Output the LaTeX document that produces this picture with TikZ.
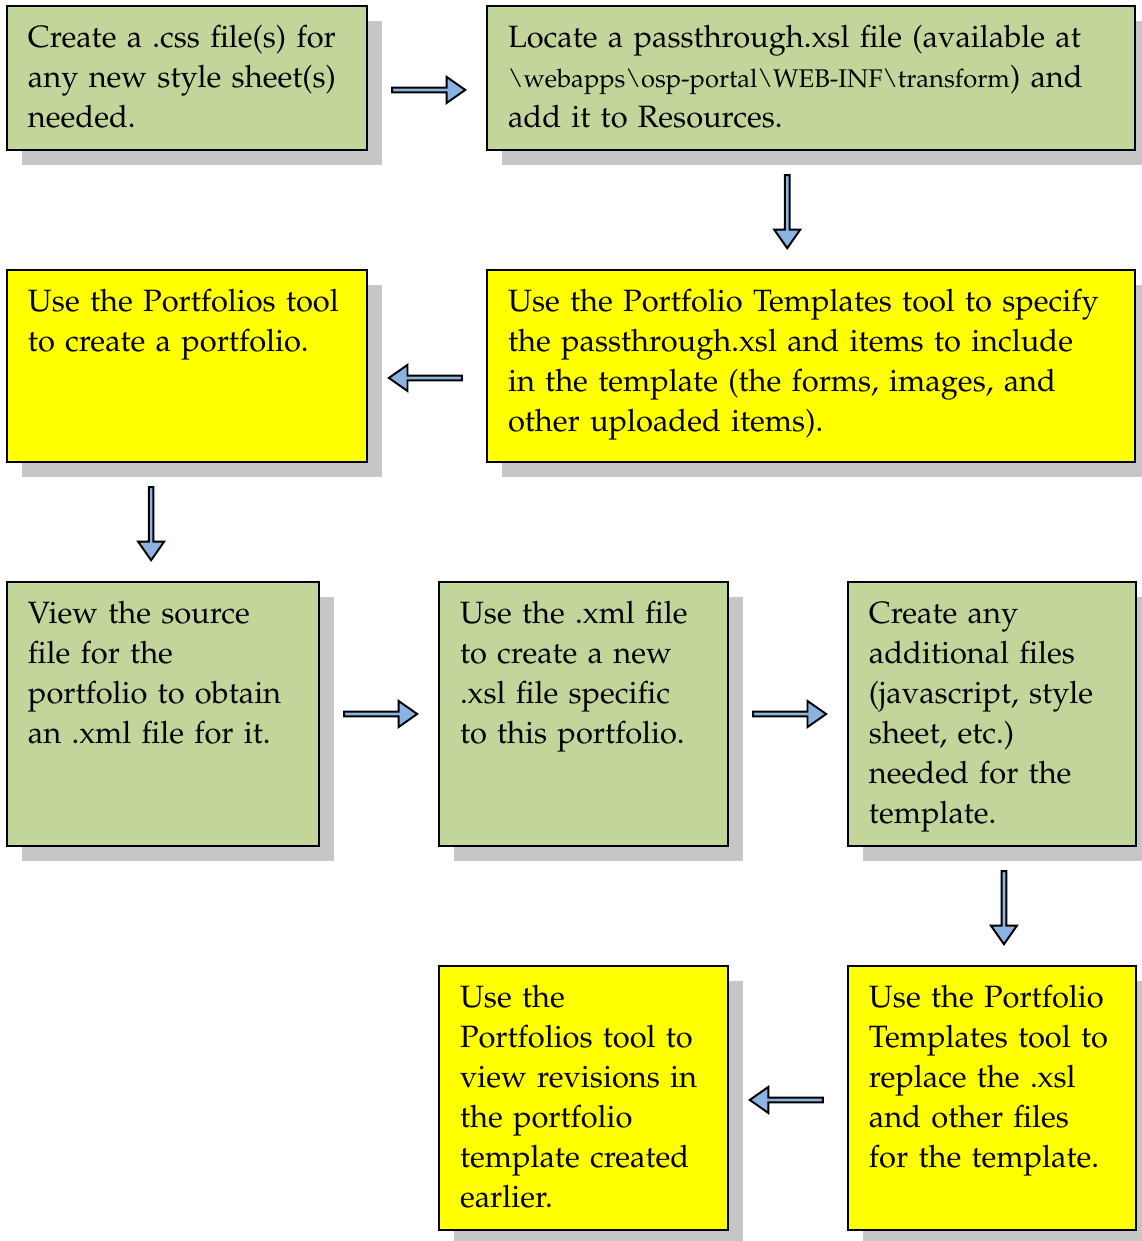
\documentclass[tikz,border=0pt]{standalone}
\usepackage[T1]{fontenc}
\usepackage{mathpazo}
\usepackage{xcolor}
\usepackage{tikz}
\usetikzlibrary{shapes, arrows, positioning, calc, shadows}
\definecolor{stepgreen}{HTML}{C2D69B}
\definecolor{stepyellow}{HTML}{FFFF00}
\definecolor{arrowblue}{HTML}{8DB3E2}
\definecolor{shadowgray}{HTML}{C6C6C6}

\begin{document}
\begin{tikzpicture}[
    % one unit is one pixel of the page, y runs downwards
    x=0.36pt, y=-0.36pt,
    node distance=43.2pt and 43.2pt,
    font=\fontsize{11.1}{14.4}\selectfont,
    % boxes: text starts at the top left corner
    block/.style={rectangle, draw, line width=0.7pt, align=left, outer sep=0pt,
        inner xsep=7.56pt, inner ysep=3.8pt, text height=11pt,
        drop shadow={shadow xshift=5.4pt, shadow yshift=-5.4pt,
            fill=shadowgray, opacity=1}},
    greenblock/.style={block, fill=stepgreen},
    yellowblock/.style={block, fill=stepyellow},
    short/.style={text depth=33.24pt},
    medium/.style={text depth=50.52pt},
    tall/.style={text depth=76.44pt},
    % fat arrows between the boxes
    flowarrow/.style={single arrow, draw, line width=0.7pt, fill=arrowblue,
        inner sep=0pt, minimum height=26.3pt, minimum width=9.4pt,
        single arrow head extend=1.6pt, single arrow tip angle=70}
]
    \useasboundingbox (0,0) rectangle (1141,1241);

    % --- ROW 1 ---
    \node (css) [greenblock, short, text width=114.5pt, anchor=north west] at (7,6)
        {Create a .css file(s) for\\any new style sheet(s)\\needed.};
    \node (xsl) [greenblock, short, text width=218.2pt, right=of css]
        {Locate a passthrough.xsl file (available at\\
         {\fontsize{9.2}{12}\selectfont\textbackslash webapps\textbackslash osp-portal\textbackslash WEB-INF\textbackslash transform}) and\\
         add it to Resources.};

    % --- ROW 2 ---
    \node (tmpl) [yellowblock, medium, text width=218.2pt, below=of xsl]
        {Use the Portfolio Templates tool to specify\\the passthrough.xsl and items to include\\in the template (the forms, images, and\\other uploaded items).};
    \node (port) [yellowblock, medium, text width=114.5pt, left=of tmpl]
        {Use the Portfolios tool\\to create a portfolio.};

    % --- ROW 3 ---
    \node (src) [greenblock, tall, text width=97.2pt, below=of port.south west, anchor=north west]
        {View the source\\file for the\\portfolio to obtain\\an .xml file for it.};
    \node (xmlx) [greenblock, tall, text width=88.9pt, right=of src]
        {Use the .xml file\\to create a new\\.xsl file specific\\to this portfolio.};
    \node (extra) [greenblock, tall, text width=88.6pt, right=of xmlx]
        {Create any\\additional files\\(javascript, style\\sheet, etc.)\\needed for the\\template.};

    % --- ROW 4 ---
    \node (repl) [yellowblock, tall, text width=88.6pt, below=of extra]
        {Use the Portfolio\\Templates tool to\\replace the .xsl\\and other files\\for the template.};
    \node (view) [yellowblock, tall, text width=88.9pt, left=of repl]
        {Use the\\Portfolios tool to\\view revisions in\\the portfolio\\template created\\earlier.};

    % --- ARROWS ---
    \node (a1) [flowarrow, yshift=-4.3pt] at ($(css.east)!0.5!(xsl.west)$) {};
    \node (a2) [flowarrow, shape border rotate=270, xshift=-8.6pt] at ($(xsl.south)!0.5!(tmpl.north)$) {};
    \node (a3) [flowarrow, shape border rotate=180, yshift=-4.3pt] at ($(tmpl.west)!0.5!(port.east)$) {};
    \node (a4) [flowarrow, shape border rotate=270, xshift=-8.6pt] at ($(port.south)!0.5!(src.north)$) {};
    \node (a5) [flowarrow] at ($(src.east)!0.5!(xmlx.west)$) {};
    \node (a6) [flowarrow] at ($(xmlx.east)!0.5!(extra.west)$) {};
    \node (a7) [flowarrow, shape border rotate=270, xshift=4.3pt] at ($(extra.south)!0.5!(repl.north)$) {};
    \node (a8) [flowarrow, shape border rotate=180, yshift=-0.7pt] at ($(repl.west)!0.5!(view.east)$) {};

\end{tikzpicture}
\end{document}
